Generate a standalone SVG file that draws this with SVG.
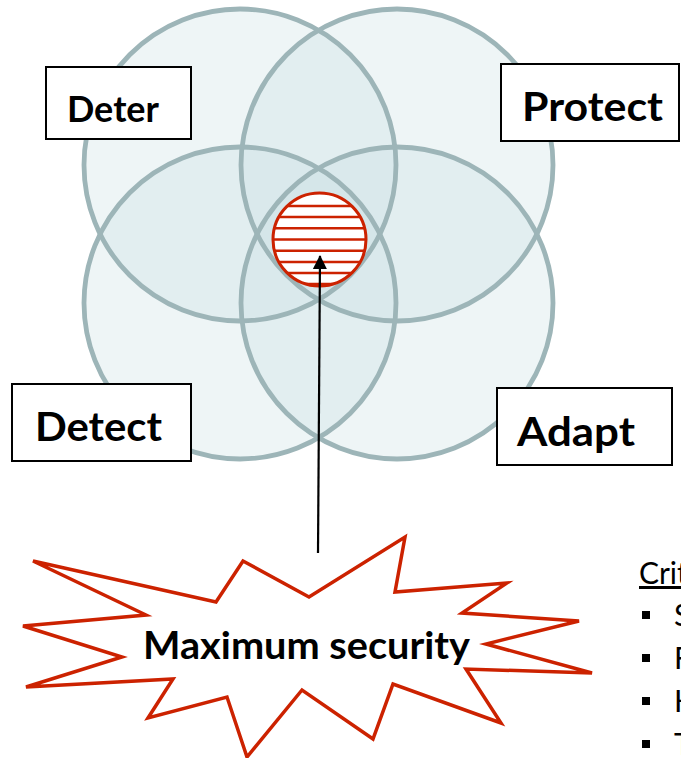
<svg xmlns="http://www.w3.org/2000/svg" width="681" height="758" viewBox="0 0 681 758">
  <style>
    .ring-fill { fill: #c9e0e4; fill-opacity: 0.32; stroke: none; }
    .ring-line { fill: none; stroke: #9db5b8; stroke-width: 4.8; }
    .box { fill: #ffffff; stroke: #000000; stroke-width: 2; }
    .lbl { font-family: Lato, "Liberation Sans", sans-serif; font-weight: bold; fill: #000000; }
    .red { stroke: #cc2200; }
    .body { font-family: Lato, "Liberation Sans", sans-serif; font-size: 30px; fill: #000000; }
  </style>
  <defs>
    <clipPath id="coreClip">
      <circle cx="319.5" cy="239.5" r="46.5"/>
    </clipPath>
    <marker id="arrowHead" viewBox="0 0 14 14" refX="13" refY="7" markerWidth="14" markerHeight="14" markerUnits="userSpaceOnUse" orient="auto">
      <path d="M0,0 L14,7 L0,14 Z" fill="#000000"/>
    </marker>
  </defs>

  <rect width="681" height="758" fill="#ffffff"/>

  <!-- four overlapping domains -->
  <g id="domains">
    <circle class="ring-fill" cx="240" cy="165" r="156"/>
    <circle class="ring-fill" cx="397" cy="165" r="156"/>
    <circle class="ring-fill" cx="240" cy="303" r="156"/>
    <circle class="ring-fill" cx="397" cy="303" r="156"/>
    <circle class="ring-line" cx="240" cy="165" r="156"/>
    <circle class="ring-line" cx="397" cy="165" r="156"/>
    <circle class="ring-line" cx="240" cy="303" r="156"/>
    <circle class="ring-line" cx="397" cy="303" r="156"/>
  </g>

  <!-- hatched core where all four overlap -->
  <g id="core">
    <circle cx="319.5" cy="239.5" r="46.5" fill="#ffffff"/>
    <g clip-path="url(#coreClip)" class="red" stroke-width="2.5">
      <line x1="270" y1="206" x2="370" y2="206"/>
      <line x1="270" y1="217" x2="370" y2="217"/>
      <line x1="270" y1="228.3" x2="370" y2="228.3"/>
      <line x1="270" y1="239.5" x2="370" y2="239.5"/>
      <line x1="270" y1="250.8" x2="370" y2="250.8"/>
      <line x1="270" y1="262" x2="370" y2="262"/>
      <line x1="270" y1="273" x2="370" y2="273"/>
      <line x1="270" y1="284" x2="370" y2="284"/>
    </g>
    <circle cx="319.5" cy="239.5" r="46.5" fill="none" class="red" stroke-width="3"/>
  </g>

  <!-- labels -->
  <g id="deter">
    <rect class="box" x="46" y="67" width="145" height="72"/>
    <text class="lbl" x="67" y="122" font-size="37" textLength="92" lengthAdjust="spacingAndGlyphs">Deter</text>
  </g>
  <g id="protect">
    <rect class="box" x="501" y="64" width="178" height="77"/>
    <text class="lbl" x="522" y="121" font-size="41" textLength="141" lengthAdjust="spacingAndGlyphs">Protect</text>
  </g>
  <g id="detect">
    <rect class="box" x="12" y="384" width="179" height="77"/>
    <text class="lbl" x="35" y="441" font-size="41" textLength="127" lengthAdjust="spacingAndGlyphs">Detect</text>
  </g>
  <g id="adapt">
    <rect class="box" x="497" y="388" width="175" height="77"/>
    <text class="lbl" x="517" y="446" font-size="41" textLength="118" lengthAdjust="spacingAndGlyphs">Adapt</text>
  </g>

  <!-- burst callout -->
  <g id="max-security">
    <polygon fill="#ffffff" class="red" stroke-width="3.5" stroke-linejoin="miter"
      points="33,561 216,602 243,561 309,597 405,537 395,592 507,583 462,613 579,621 486,644 592,673 466,669 501,723 393,684 373,739 302,690 247,757 227,697 148,718 173,679 26,687 122,657 23,626 146,615"/>
    <text class="lbl" x="143" y="659" font-size="38" textLength="327" lengthAdjust="spacingAndGlyphs">Maximum security</text>
  </g>

  <!-- connector -->
  <g id="connectors">
    <line x1="318" y1="553" x2="320" y2="256" stroke="#000000" stroke-width="2.2" marker-end="url(#arrowHead)"/>
  </g>

  <!-- criteria list running off the right edge -->
  <g id="criteria">
    <text class="body" x="639" y="584" text-decoration="underline">Crit</text>
    <rect x="642" y="611" width="8" height="8" fill="#000000"/>
    <rect x="642" y="654" width="8" height="8" fill="#000000"/>
    <rect x="642" y="697" width="8" height="8" fill="#000000"/>
    <rect x="642" y="740" width="8" height="8" fill="#000000"/>
    <text class="body" x="674" y="626">S</text>
    <text class="body" x="674" y="669">F</text>
    <text class="body" x="674" y="712">H</text>
    <text class="body" x="674" y="755">T</text>
  </g>
</svg>
